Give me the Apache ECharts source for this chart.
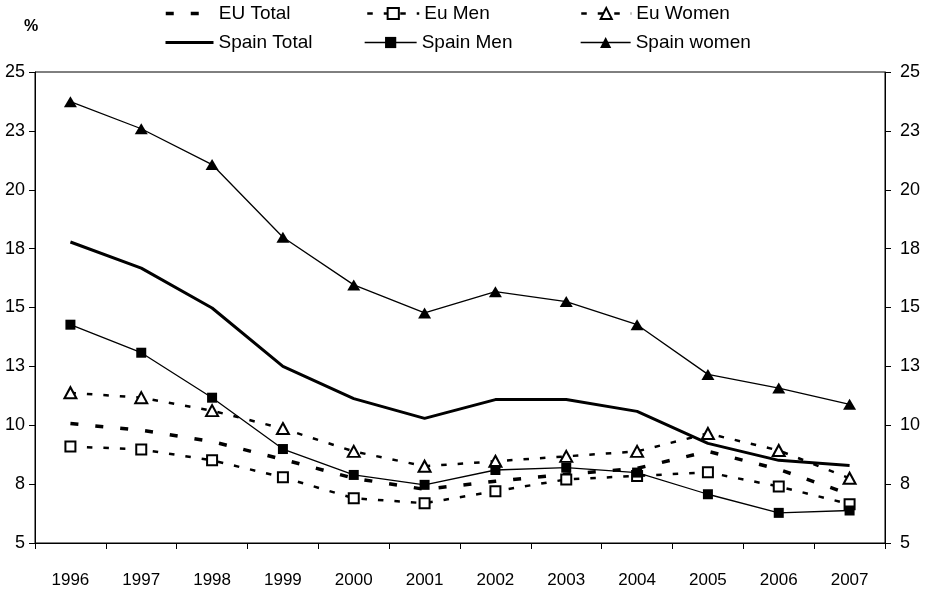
<!DOCTYPE html>
<html>
<head>
<meta charset="utf-8">
<title>Unemployment EU / Spain</title>
<script src="https://cdn.jsdelivr.net/npm/echarts@6/dist/echarts.min.js"></script>
<style>
  html, body { margin: 0; padding: 0; background: #fff; }
  #chartLineBox { width: 933px; height: 589px; }
</style>
</head>
<body>
<div id="chartLineBox"></div>
<script>
// years on the x axis
const years = ['1996', '1997', '1998', '1999', '2000', '2001', '2002', '2003', '2004', '2005', '2006', '2007']
// EU values (%)
const euTotal = [10.07, 9.79, 9.31, 8.55, 7.75, 7.28, 7.62, 7.92, 8.17, 8.89, 8.13, 7.07]
const euMen = [9.10, 8.97, 8.51, 7.79, 6.90, 6.69, 7.20, 7.70, 7.85, 8.00, 7.40, 6.65]
const euWomen = [11.38, 11.17, 10.62, 9.86, 8.89, 8.26, 8.47, 8.68, 8.89, 9.65, 8.93, 7.75]
// Spain values (%)
const spainTotal = [17.78, 16.67, 14.98, 12.50, 11.13, 10.29, 11.09, 11.09, 10.59, 9.23, 8.51, 8.29]
const spainMen = [14.27, 13.08, 11.17, 8.99, 7.89, 7.47, 8.10, 8.20, 7.99, 7.07, 6.28, 6.38]
const spainWomen = [23.74, 22.59, 21.07, 17.98, 15.96, 14.77, 15.67, 15.25, 14.27, 12.16, 11.58, 10.89]

const font = 'Arial, "Liberation Sans", sans-serif'

// one legend per item so each sits where it does in the picture
// lineOnly: hide the marker (series without symbols)
function legendAt (name, left, top, width, lineStyle, lineOnly) {
  const item = { name: name }
  if (lineStyle) item.lineStyle = lineStyle
  if (lineOnly) item.itemStyle = { opacity: 0 }
  return {
    data: [item],
    left: left,
    top: top,
    padding: 0,
    itemWidth: width,
    itemHeight: 14,
    selectedMode: false,
    textStyle: { fontFamily: font, fontSize: 19, color: '#000' }
  }
}

function yAxisSide (pos, margin) {
  return {
    type: 'value',
    position: pos,
    min: 5,
    max: 25,
    interval: 2.5,
    axisLine: { show: true, lineStyle: { color: '#000', width: 1 } },
    axisTick: { show: true, length: 6, lineStyle: { color: '#000' } },
    splitLine: { show: false },
    axisLabel: {
      margin: margin,
      fontFamily: font,
      fontSize: 18,
      color: '#000',
      formatter: function (v) { return Math.round(v) }
    }
  }
}

const option = {
  animation: false,
  backgroundColor: '#fff',
  title: {
    text: '%',
    left: 19,
    top: 14,
    textStyle: { fontFamily: font, fontSize: 16, fontWeight: 'bold', color: '#000' }
  },
  legend: [
    legendAt('EU Total', 164, 4, 48, { width: 3.5, type: [8, 17] }, true),
    legendAt('Eu Men', 366, 4, 52, { width: 2.5, type: [5.5, 11] }),
    legendAt('Eu Women', 580, 4, 50, { width: 2.5, type: [5.5, 11] }),
    legendAt('Spain Total', 164, 33, 48, { width: 3 }, true),
    legendAt('Spain Men', 364, 33, 52, { width: 1.3 }),
    legendAt('Spain women', 580, 33, 50, { width: 1.3 })
  ],
  grid: {
    left: 35,
    right: 48,
    top: 72,
    bottom: 44,
    show: true,
    borderColor: '#000',
    borderWidth: 1
  },
  xAxis: {
    type: 'category',
    data: years,
    boundaryGap: true,
    axisLine: { lineStyle: { color: '#000', width: 1 } },
    axisTick: { show: true, interval: 0, length: 6, lineStyle: { color: '#000' } },
    axisLabel: { interval: 0, margin: 29, fontFamily: font, fontSize: 17, color: '#000' }
  },
  yAxis: [yAxisSide('left', 10), yAxisSide('right', 15)],
  series: [
    {
      name: 'EU Total',
      type: 'line',
      data: euTotal,
      symbol: 'none',
      color: '#000',
      lineStyle: { color: '#000', width: 3.5, type: [8, 17] }
    },
    {
      name: 'Eu Men',
      type: 'line',
      data: euMen,
      symbol: 'emptyRect',
      symbolSize: 10,
      color: '#000',
      itemStyle: { color: '#000', borderColor: '#000', borderWidth: 1.3 },
      lineStyle: { color: '#000', width: 2.5, type: [5.5, 11] }
    },
    {
      name: 'Eu Women',
      type: 'line',
      data: euWomen,
      symbol: 'emptyTriangle',
      symbolSize: [12, 11],
      color: '#000',
      itemStyle: { color: '#000', borderColor: '#000', borderWidth: 1.3 },
      lineStyle: { color: '#000', width: 2.5, type: [5.5, 11] }
    },
    {
      name: 'Spain Total',
      type: 'line',
      data: spainTotal,
      symbol: 'none',
      color: '#000',
      lineStyle: { color: '#000', width: 3 }
    },
    {
      name: 'Spain Men',
      type: 'line',
      data: spainMen,
      symbol: 'rect',
      symbolSize: 10,
      color: '#000',
      itemStyle: { color: '#000' },
      lineStyle: { color: '#000', width: 1.3 }
    },
    {
      name: 'Spain women',
      type: 'line',
      data: spainWomen,
      symbol: 'triangle',
      symbolSize: [13, 11],
      color: '#000',
      itemStyle: { color: '#000' },
      lineStyle: { color: '#000', width: 1.3 }
    }
  ]
}

const myEcharts = echarts.init(document.getElementById('chartLineBox'))
myEcharts.setOption(option)
</script>
</body>
</html>
